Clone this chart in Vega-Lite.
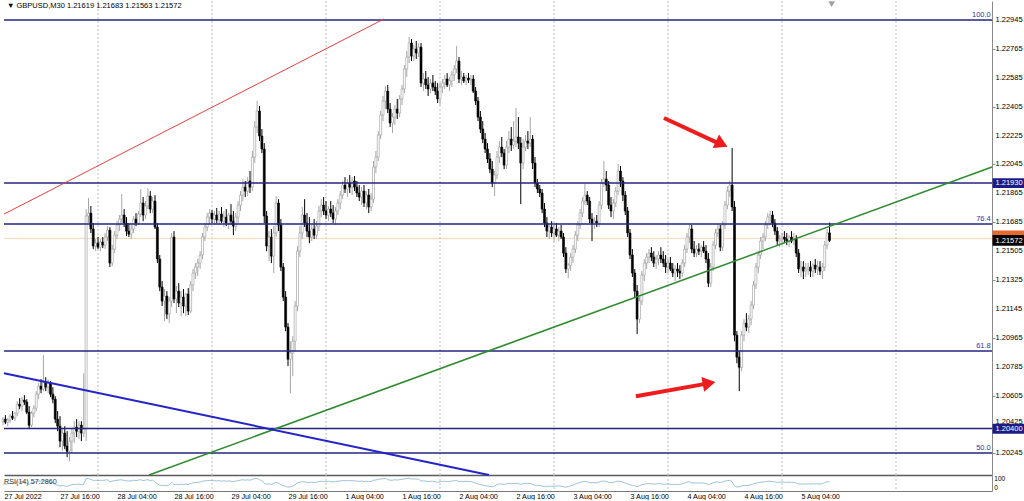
{
"$schema": "https://vega.github.io/schema/vega-lite/v6.json",
"background": "#ffffff",
"padding": 0,
"spacing": 0,
"bounds": "flush",
"config": {"view": {"stroke": null}, "font": "Liberation Sans", "axis": {"labelFont": "Liberation Sans", "titleFont": "Liberation Sans", "labelOverlap": false}, "scale": {"continuousPadding": 0}},
"datasets": {"candles": [
{"i":0,"o":1.20446,"h":1.20471,"l":1.20421,"c":1.20459,"r":45},
{"i":1,"o":1.20459,"h":1.20484,"l":1.20428,"c":1.20440,"r":43},
{"i":2,"o":1.20440,"h":1.20465,"l":1.20415,"c":1.20453,"r":44},
{"i":3,"o":1.20453,"h":1.20490,"l":1.20434,"c":1.20478,"r":48},
{"i":4,"o":1.20478,"h":1.20509,"l":1.20453,"c":1.20465,"r":46},
{"i":5,"o":1.20465,"h":1.20502,"l":1.20446,"c":1.20496,"r":50},
{"i":6,"o":1.20496,"h":1.20571,"l":1.20478,"c":1.20552,"r":57},
{"i":7,"o":1.20552,"h":1.20590,"l":1.20521,"c":1.20540,"r":55},
{"i":8,"o":1.20540,"h":1.20596,"l":1.20509,"c":1.20577,"r":59},
{"i":9,"o":1.20577,"h":1.20608,"l":1.20546,"c":1.20565,"r":57},
{"i":10,"o":1.20565,"h":1.20583,"l":1.20490,"c":1.20502,"r":49},
{"i":11,"o":1.20502,"h":1.20540,"l":1.20397,"c":1.20421,"r":41},
{"i":12,"o":1.20421,"h":1.20509,"l":1.20409,"c":1.20496,"r":50},
{"i":13,"o":1.20496,"h":1.20546,"l":1.20471,"c":1.20527,"r":53},
{"i":14,"o":1.20527,"h":1.20633,"l":1.20509,"c":1.20614,"r":60},
{"i":15,"o":1.20614,"h":1.20683,"l":1.20583,"c":1.20664,"r":64},
{"i":16,"o":1.20664,"h":1.20708,"l":1.20621,"c":1.20646,"r":61},
{"i":17,"o":1.20646,"h":1.20857,"l":1.20633,"c":1.20689,"r":64},
{"i":18,"o":1.20689,"h":1.20720,"l":1.20633,"c":1.20658,"r":60},
{"i":19,"o":1.20658,"h":1.20708,"l":1.20621,"c":1.20683,"r":62},
{"i":20,"o":1.20683,"h":1.20695,"l":1.20596,"c":1.20614,"r":54},
{"i":21,"o":1.20614,"h":1.20658,"l":1.20558,"c":1.20583,"r":51},
{"i":22,"o":1.20583,"h":1.20602,"l":1.20434,"c":1.20459,"r":40},
{"i":23,"o":1.20459,"h":1.20509,"l":1.20384,"c":1.20415,"r":36},
{"i":24,"o":1.20415,"h":1.20478,"l":1.20284,"c":1.20322,"r":30},
{"i":25,"o":1.20322,"h":1.20397,"l":1.20259,"c":1.20372,"r":36},
{"i":26,"o":1.20372,"h":1.20415,"l":1.20272,"c":1.20291,"r":31},
{"i":27,"o":1.20291,"h":1.20384,"l":1.20222,"c":1.20259,"r":29},
{"i":28,"o":1.20259,"h":1.20347,"l":1.20197,"c":1.20322,"r":35},
{"i":29,"o":1.20322,"h":1.20397,"l":1.20247,"c":1.20372,"r":39},
{"i":30,"o":1.20372,"h":1.20446,"l":1.20309,"c":1.20409,"r":42},
{"i":31,"o":1.20409,"h":1.20459,"l":1.20347,"c":1.20384,"r":40},
{"i":32,"o":1.20384,"h":1.20446,"l":1.20334,"c":1.20421,"r":43},
{"i":33,"o":1.20421,"h":1.20446,"l":1.20322,"c":1.20372,"r":39},
{"i":34,"o":1.20372,"h":1.20745,"l":1.20347,"c":1.20397,"r":42},
{"i":35,"o":1.20397,"h":1.21767,"l":1.20322,"c":1.21724,"r":78},
{"i":36,"o":1.21724,"h":1.21836,"l":1.21680,"c":1.21742,"r":78},
{"i":37,"o":1.21742,"h":1.21786,"l":1.21618,"c":1.21643,"r":72},
{"i":38,"o":1.21643,"h":1.21680,"l":1.21518,"c":1.21537,"r":66},
{"i":39,"o":1.21537,"h":1.21580,"l":1.21505,"c":1.21555,"r":67},
{"i":40,"o":1.21555,"h":1.21593,"l":1.21518,"c":1.21530,"r":65},
{"i":41,"o":1.21530,"h":1.21580,"l":1.21505,"c":1.21562,"r":67},
{"i":42,"o":1.21562,"h":1.21593,"l":1.21524,"c":1.21543,"r":66},
{"i":43,"o":1.21543,"h":1.21618,"l":1.21518,"c":1.21593,"r":68},
{"i":44,"o":1.21593,"h":1.21661,"l":1.21568,"c":1.21636,"r":70},
{"i":45,"o":1.21636,"h":1.21655,"l":1.21406,"c":1.21431,"r":58},
{"i":46,"o":1.21431,"h":1.21543,"l":1.21412,"c":1.21518,"r":62},
{"i":47,"o":1.21518,"h":1.21630,"l":1.21493,"c":1.21605,"r":65},
{"i":48,"o":1.21605,"h":1.21692,"l":1.21580,"c":1.21668,"r":67},
{"i":49,"o":1.21668,"h":1.21730,"l":1.21630,"c":1.21705,"r":69},
{"i":50,"o":1.21705,"h":1.21861,"l":1.21680,"c":1.21730,"r":70},
{"i":51,"o":1.21730,"h":1.21767,"l":1.21655,"c":1.21680,"r":66},
{"i":52,"o":1.21680,"h":1.21717,"l":1.21599,"c":1.21630,"r":63},
{"i":53,"o":1.21630,"h":1.21680,"l":1.21593,"c":1.21611,"r":62},
{"i":54,"o":1.21611,"h":1.21668,"l":1.21580,"c":1.21643,"r":64},
{"i":55,"o":1.21643,"h":1.21724,"l":1.21618,"c":1.21705,"r":67},
{"i":56,"o":1.21705,"h":1.21742,"l":1.21661,"c":1.21680,"r":65},
{"i":57,"o":1.21680,"h":1.21755,"l":1.21668,"c":1.21736,"r":68},
{"i":58,"o":1.21736,"h":1.21892,"l":1.21717,"c":1.21805,"r":71},
{"i":59,"o":1.21805,"h":1.21842,"l":1.21692,"c":1.21730,"r":65},
{"i":60,"o":1.21730,"h":1.21817,"l":1.21705,"c":1.21786,"r":68},
{"i":61,"o":1.21786,"h":1.21898,"l":1.21767,"c":1.21848,"r":71},
{"i":62,"o":1.21848,"h":1.21879,"l":1.21742,"c":1.21767,"r":65},
{"i":63,"o":1.21767,"h":1.21842,"l":1.21742,"c":1.21817,"r":68},
{"i":64,"o":1.21817,"h":1.21854,"l":1.21643,"c":1.21655,"r":57},
{"i":65,"o":1.21655,"h":1.21680,"l":1.21431,"c":1.21456,"r":45},
{"i":66,"o":1.21456,"h":1.21481,"l":1.21256,"c":1.21281,"r":37},
{"i":67,"o":1.21281,"h":1.21319,"l":1.21163,"c":1.21194,"r":34},
{"i":68,"o":1.21194,"h":1.21269,"l":1.21069,"c":1.21225,"r":36},
{"i":69,"o":1.21225,"h":1.21256,"l":1.21082,"c":1.21113,"r":33},
{"i":70,"o":1.21113,"h":1.21219,"l":1.21057,"c":1.21194,"r":38},
{"i":71,"o":1.21194,"h":1.21618,"l":1.21157,"c":1.21593,"r":55},
{"i":72,"o":1.21593,"h":1.21630,"l":1.21182,"c":1.21207,"r":40},
{"i":73,"o":1.21207,"h":1.21288,"l":1.21119,"c":1.21256,"r":43},
{"i":74,"o":1.21256,"h":1.21306,"l":1.21157,"c":1.21182,"r":40},
{"i":75,"o":1.21182,"h":1.21256,"l":1.21100,"c":1.21219,"r":42},
{"i":76,"o":1.21219,"h":1.21269,"l":1.21119,"c":1.21163,"r":40},
{"i":77,"o":1.21163,"h":1.21244,"l":1.21100,"c":1.21238,"r":44},
{"i":78,"o":1.21238,"h":1.21275,"l":1.21107,"c":1.21132,"r":39},
{"i":79,"o":1.21132,"h":1.21319,"l":1.21119,"c":1.21294,"r":47},
{"i":80,"o":1.21294,"h":1.21394,"l":1.21256,"c":1.21369,"r":51},
{"i":81,"o":1.21369,"h":1.21431,"l":1.21331,"c":1.21406,"r":53},
{"i":82,"o":1.21406,"h":1.21456,"l":1.21350,"c":1.21431,"r":54},
{"i":83,"o":1.21431,"h":1.21505,"l":1.21394,"c":1.21481,"r":56},
{"i":84,"o":1.21481,"h":1.21618,"l":1.21456,"c":1.21593,"r":61},
{"i":85,"o":1.21593,"h":1.21680,"l":1.21568,"c":1.21655,"r":63},
{"i":86,"o":1.21655,"h":1.21742,"l":1.21630,"c":1.21717,"r":65},
{"i":87,"o":1.21717,"h":1.21767,"l":1.21668,"c":1.21742,"r":66},
{"i":88,"o":1.21742,"h":1.21761,"l":1.21680,"c":1.21705,"r":64},
{"i":89,"o":1.21705,"h":1.21755,"l":1.21668,"c":1.21730,"r":65},
{"i":90,"o":1.21730,"h":1.21774,"l":1.21680,"c":1.21699,"r":63},
{"i":91,"o":1.21699,"h":1.21755,"l":1.21668,"c":1.21736,"r":65},
{"i":92,"o":1.21736,"h":1.21780,"l":1.21680,"c":1.21692,"r":62},
{"i":93,"o":1.21692,"h":1.21755,"l":1.21655,"c":1.21717,"r":63},
{"i":94,"o":1.21717,"h":1.21767,"l":1.21661,"c":1.21680,"r":61},
{"i":95,"o":1.21680,"h":1.21742,"l":1.21643,"c":1.21730,"r":63},
{"i":96,"o":1.21730,"h":1.21798,"l":1.21668,"c":1.21692,"r":61},
{"i":97,"o":1.21692,"h":1.21755,"l":1.21605,"c":1.21661,"r":59},
{"i":98,"o":1.21661,"h":1.21742,"l":1.21630,"c":1.21717,"r":62},
{"i":99,"o":1.21717,"h":1.21817,"l":1.21680,"c":1.21792,"r":65},
{"i":100,"o":1.21792,"h":1.21879,"l":1.21755,"c":1.21854,"r":68},
{"i":101,"o":1.21854,"h":1.21954,"l":1.21817,"c":1.21904,"r":70},
{"i":102,"o":1.21904,"h":1.21942,"l":1.21842,"c":1.21879,"r":68},
{"i":103,"o":1.21879,"h":1.21966,"l":1.21848,"c":1.21942,"r":70},
{"i":104,"o":1.21942,"h":1.22004,"l":1.21867,"c":1.21904,"r":67},
{"i":105,"o":1.21904,"h":1.22129,"l":1.21879,"c":1.22091,"r":73},
{"i":106,"o":1.22091,"h":1.22315,"l":1.22054,"c":1.22278,"r":77},
{"i":107,"o":1.22278,"h":1.22440,"l":1.22241,"c":1.22378,"r":79},
{"i":108,"o":1.22378,"h":1.22409,"l":1.22191,"c":1.22222,"r":70},
{"i":109,"o":1.22222,"h":1.22266,"l":1.22116,"c":1.22141,"r":66},
{"i":110,"o":1.22141,"h":1.22178,"l":1.21680,"c":1.21724,"r":48},
{"i":111,"o":1.21724,"h":1.21755,"l":1.21505,"c":1.21537,"r":42},
{"i":112,"o":1.21537,"h":1.21630,"l":1.21443,"c":1.21593,"r":45},
{"i":113,"o":1.21593,"h":1.21643,"l":1.21431,"c":1.21474,"r":41},
{"i":114,"o":1.21474,"h":1.21661,"l":1.21369,"c":1.21618,"r":47},
{"i":115,"o":1.21618,"h":1.21848,"l":1.21593,"c":1.21805,"r":54},
{"i":116,"o":1.21805,"h":1.21829,"l":1.21630,"c":1.21668,"r":49},
{"i":117,"o":1.21668,"h":1.21705,"l":1.21381,"c":1.21406,"r":40},
{"i":118,"o":1.21406,"h":1.21431,"l":1.21194,"c":1.21219,"r":34},
{"i":119,"o":1.21219,"h":1.21256,"l":1.21007,"c":1.21032,"r":29},
{"i":120,"o":1.21032,"h":1.21057,"l":1.20789,"c":1.20832,"r":24},
{"i":121,"o":1.20832,"h":1.20944,"l":1.20621,"c":1.20870,"r":27},
{"i":122,"o":1.20870,"h":1.20976,"l":1.20726,"c":1.20944,"r":30},
{"i":123,"o":1.20944,"h":1.21194,"l":1.20882,"c":1.21163,"r":40},
{"i":124,"o":1.21163,"h":1.21537,"l":1.21132,"c":1.21505,"r":51},
{"i":125,"o":1.21505,"h":1.21661,"l":1.21468,"c":1.21618,"r":55},
{"i":126,"o":1.21618,"h":1.21780,"l":1.21580,"c":1.21730,"r":58},
{"i":127,"o":1.21730,"h":1.21829,"l":1.21655,"c":1.21680,"r":56},
{"i":128,"o":1.21680,"h":1.21742,"l":1.21593,"c":1.21630,"r":54},
{"i":129,"o":1.21630,"h":1.21717,"l":1.21555,"c":1.21593,"r":53},
{"i":130,"o":1.21593,"h":1.21668,"l":1.21568,"c":1.21643,"r":55},
{"i":131,"o":1.21643,"h":1.21705,"l":1.21580,"c":1.21605,"r":53},
{"i":132,"o":1.21605,"h":1.21692,"l":1.21580,"c":1.21661,"r":56},
{"i":133,"o":1.21661,"h":1.21786,"l":1.21630,"c":1.21755,"r":59},
{"i":134,"o":1.21755,"h":1.21829,"l":1.21717,"c":1.21792,"r":61},
{"i":135,"o":1.21792,"h":1.21842,"l":1.21730,"c":1.21755,"r":59},
{"i":136,"o":1.21755,"h":1.21817,"l":1.21705,"c":1.21730,"r":58},
{"i":137,"o":1.21730,"h":1.21786,"l":1.21692,"c":1.21767,"r":60},
{"i":138,"o":1.21767,"h":1.21817,"l":1.21717,"c":1.21742,"r":59},
{"i":139,"o":1.21742,"h":1.21792,"l":1.21680,"c":1.21705,"r":57},
{"i":140,"o":1.21705,"h":1.21780,"l":1.21668,"c":1.21755,"r":59},
{"i":141,"o":1.21755,"h":1.21829,"l":1.21730,"c":1.21805,"r":61},
{"i":142,"o":1.21805,"h":1.21879,"l":1.21767,"c":1.21854,"r":63},
{"i":143,"o":1.21854,"h":1.21942,"l":1.21829,"c":1.21917,"r":65},
{"i":144,"o":1.21917,"h":1.21966,"l":1.21867,"c":1.21892,"r":64},
{"i":145,"o":1.21892,"h":1.21954,"l":1.21842,"c":1.21929,"r":65},
{"i":146,"o":1.21929,"h":1.21979,"l":1.21867,"c":1.21904,"r":64},
{"i":147,"o":1.21904,"h":1.21966,"l":1.21854,"c":1.21942,"r":65},
{"i":148,"o":1.21942,"h":1.21973,"l":1.21879,"c":1.21904,"r":63},
{"i":149,"o":1.21904,"h":1.21942,"l":1.21842,"c":1.21867,"r":62},
{"i":150,"o":1.21867,"h":1.21917,"l":1.21817,"c":1.21842,"r":60},
{"i":151,"o":1.21842,"h":1.21904,"l":1.21792,"c":1.21879,"r":62},
{"i":152,"o":1.21879,"h":1.21917,"l":1.21780,"c":1.21805,"r":59},
{"i":153,"o":1.21805,"h":1.21879,"l":1.21767,"c":1.21854,"r":61},
{"i":154,"o":1.21854,"h":1.21892,"l":1.21742,"c":1.21780,"r":58},
{"i":155,"o":1.21780,"h":1.21867,"l":1.21755,"c":1.21829,"r":60},
{"i":156,"o":1.21829,"h":1.22066,"l":1.21805,"c":1.22029,"r":67},
{"i":157,"o":1.22029,"h":1.22129,"l":1.21991,"c":1.22091,"r":69},
{"i":158,"o":1.22091,"h":1.22253,"l":1.22066,"c":1.22228,"r":72},
{"i":159,"o":1.22228,"h":1.22378,"l":1.22203,"c":1.22353,"r":75},
{"i":160,"o":1.22353,"h":1.22471,"l":1.22315,"c":1.22440,"r":77},
{"i":161,"o":1.22440,"h":1.22533,"l":1.22390,"c":1.22502,"r":78},
{"i":162,"o":1.22502,"h":1.22540,"l":1.22365,"c":1.22390,"r":72},
{"i":163,"o":1.22390,"h":1.22428,"l":1.22278,"c":1.22303,"r":67},
{"i":164,"o":1.22303,"h":1.22365,"l":1.22241,"c":1.22340,"r":68},
{"i":165,"o":1.22340,"h":1.22415,"l":1.22290,"c":1.22390,"r":70},
{"i":166,"o":1.22390,"h":1.22453,"l":1.22328,"c":1.22365,"r":69},
{"i":167,"o":1.22365,"h":1.22477,"l":1.22340,"c":1.22453,"r":71},
{"i":168,"o":1.22453,"h":1.22540,"l":1.22415,"c":1.22515,"r":73},
{"i":169,"o":1.22515,"h":1.22664,"l":1.22490,"c":1.22639,"r":76},
{"i":170,"o":1.22639,"h":1.22752,"l":1.22590,"c":1.22714,"r":78},
{"i":171,"o":1.22714,"h":1.22839,"l":1.22677,"c":1.22801,"r":80},
{"i":172,"o":1.22801,"h":1.22826,"l":1.22689,"c":1.22720,"r":75},
{"i":173,"o":1.22720,"h":1.22789,"l":1.22689,"c":1.22764,"r":76},
{"i":174,"o":1.22764,"h":1.22814,"l":1.22702,"c":1.22739,"r":74},
{"i":175,"o":1.22739,"h":1.22801,"l":1.22714,"c":1.22776,"r":75},
{"i":176,"o":1.22776,"h":1.22801,"l":1.22527,"c":1.22552,"r":62},
{"i":177,"o":1.22552,"h":1.22614,"l":1.22502,"c":1.22577,"r":63},
{"i":178,"o":1.22577,"h":1.22627,"l":1.22515,"c":1.22540,"r":61},
{"i":179,"o":1.22540,"h":1.22590,"l":1.22471,"c":1.22515,"r":59},
{"i":180,"o":1.22515,"h":1.22577,"l":1.22490,"c":1.22552,"r":61},
{"i":181,"o":1.22552,"h":1.22602,"l":1.22502,"c":1.22527,"r":60},
{"i":182,"o":1.22527,"h":1.22565,"l":1.22477,"c":1.22502,"r":58},
{"i":183,"o":1.22502,"h":1.22552,"l":1.22428,"c":1.22453,"r":55},
{"i":184,"o":1.22453,"h":1.22552,"l":1.22415,"c":1.22527,"r":58},
{"i":185,"o":1.22527,"h":1.22577,"l":1.22490,"c":1.22552,"r":60},
{"i":186,"o":1.22552,"h":1.22602,"l":1.22515,"c":1.22577,"r":61},
{"i":187,"o":1.22577,"h":1.22614,"l":1.22527,"c":1.22540,"r":59},
{"i":188,"o":1.22540,"h":1.22590,"l":1.22502,"c":1.22565,"r":60},
{"i":189,"o":1.22565,"h":1.22627,"l":1.22527,"c":1.22602,"r":62},
{"i":190,"o":1.22602,"h":1.22664,"l":1.22565,"c":1.22639,"r":64},
{"i":191,"o":1.22639,"h":1.22783,"l":1.22614,"c":1.22689,"r":66},
{"i":192,"o":1.22689,"h":1.22714,"l":1.22552,"c":1.22577,"r":59},
{"i":193,"o":1.22577,"h":1.22627,"l":1.22540,"c":1.22590,"r":60},
{"i":194,"o":1.22590,"h":1.22614,"l":1.22552,"c":1.22565,"r":59},
{"i":195,"o":1.22565,"h":1.22602,"l":1.22540,"c":1.22583,"r":60},
{"i":196,"o":1.22583,"h":1.22614,"l":1.22552,"c":1.22571,"r":59},
{"i":197,"o":1.22571,"h":1.22602,"l":1.22540,"c":1.22577,"r":59},
{"i":198,"o":1.22577,"h":1.22602,"l":1.22490,"c":1.22502,"r":54},
{"i":199,"o":1.22502,"h":1.22527,"l":1.22415,"c":1.22440,"r":50},
{"i":200,"o":1.22440,"h":1.22465,"l":1.22315,"c":1.22340,"r":44},
{"i":201,"o":1.22340,"h":1.22378,"l":1.22241,"c":1.22266,"r":40},
{"i":202,"o":1.22266,"h":1.22315,"l":1.22178,"c":1.22203,"r":37},
{"i":203,"o":1.22203,"h":1.22241,"l":1.22116,"c":1.22141,"r":34},
{"i":204,"o":1.22141,"h":1.22178,"l":1.22054,"c":1.22079,"r":31},
{"i":205,"o":1.22079,"h":1.22116,"l":1.21991,"c":1.22016,"r":29},
{"i":206,"o":1.22016,"h":1.22066,"l":1.21904,"c":1.21929,"r":26},
{"i":207,"o":1.21929,"h":1.22004,"l":1.21848,"c":1.21979,"r":31},
{"i":208,"o":1.21979,"h":1.22129,"l":1.21954,"c":1.22091,"r":40},
{"i":209,"o":1.22091,"h":1.22191,"l":1.22054,"c":1.22153,"r":45},
{"i":210,"o":1.22153,"h":1.22216,"l":1.22091,"c":1.22116,"r":43},
{"i":211,"o":1.22116,"h":1.22141,"l":1.22016,"c":1.22041,"r":39},
{"i":212,"o":1.22041,"h":1.22191,"l":1.22016,"c":1.22153,"r":45},
{"i":213,"o":1.22153,"h":1.22253,"l":1.22116,"c":1.22203,"r":48},
{"i":214,"o":1.22203,"h":1.22278,"l":1.22129,"c":1.22166,"r":46},
{"i":215,"o":1.22166,"h":1.22315,"l":1.22141,"c":1.22191,"r":47},
{"i":216,"o":1.22191,"h":1.22397,"l":1.22153,"c":1.22216,"r":48},
{"i":217,"o":1.22216,"h":1.22340,"l":1.22141,"c":1.22178,"r":46},
{"i":218,"o":1.22178,"h":1.22216,"l":1.21798,"c":1.22054,"r":41},
{"i":219,"o":1.22054,"h":1.22203,"l":1.22016,"c":1.22153,"r":46},
{"i":220,"o":1.22153,"h":1.22228,"l":1.22129,"c":1.22191,"r":48},
{"i":221,"o":1.22191,"h":1.22253,"l":1.22141,"c":1.22178,"r":47},
{"i":222,"o":1.22178,"h":1.22340,"l":1.22153,"c":1.22203,"r":48},
{"i":223,"o":1.22203,"h":1.22228,"l":1.22016,"c":1.22054,"r":41},
{"i":224,"o":1.22054,"h":1.22091,"l":1.21904,"c":1.21929,"r":36},
{"i":225,"o":1.21929,"h":1.21954,"l":1.21867,"c":1.21892,"r":35},
{"i":226,"o":1.21892,"h":1.21917,"l":1.21842,"c":1.21867,"r":34},
{"i":227,"o":1.21867,"h":1.21892,"l":1.21742,"c":1.21767,"r":31},
{"i":228,"o":1.21767,"h":1.21805,"l":1.21655,"c":1.21680,"r":28},
{"i":229,"o":1.21680,"h":1.21717,"l":1.21593,"c":1.21630,"r":27},
{"i":230,"o":1.21630,"h":1.21680,"l":1.21580,"c":1.21655,"r":30},
{"i":231,"o":1.21655,"h":1.21692,"l":1.21593,"c":1.21618,"r":29},
{"i":232,"o":1.21618,"h":1.21668,"l":1.21568,"c":1.21643,"r":31},
{"i":233,"o":1.21643,"h":1.21680,"l":1.21593,"c":1.21605,"r":30},
{"i":234,"o":1.21605,"h":1.21655,"l":1.21568,"c":1.21630,"r":32},
{"i":235,"o":1.21630,"h":1.21668,"l":1.21580,"c":1.21593,"r":31},
{"i":236,"o":1.21593,"h":1.21618,"l":1.21468,"c":1.21493,"r":27},
{"i":237,"o":1.21493,"h":1.21530,"l":1.21369,"c":1.21394,"r":24},
{"i":238,"o":1.21394,"h":1.21431,"l":1.21338,"c":1.21418,"r":27},
{"i":239,"o":1.21418,"h":1.21493,"l":1.21381,"c":1.21468,"r":32},
{"i":240,"o":1.21468,"h":1.21543,"l":1.21431,"c":1.21518,"r":37},
{"i":241,"o":1.21518,"h":1.21630,"l":1.21493,"c":1.21605,"r":44},
{"i":242,"o":1.21605,"h":1.21692,"l":1.21568,"c":1.21668,"r":49},
{"i":243,"o":1.21668,"h":1.21767,"l":1.21643,"c":1.21742,"r":54},
{"i":244,"o":1.21742,"h":1.21842,"l":1.21717,"c":1.21817,"r":58},
{"i":245,"o":1.21817,"h":1.21923,"l":1.21792,"c":1.21854,"r":60},
{"i":246,"o":1.21854,"h":1.21879,"l":1.21792,"c":1.21817,"r":58},
{"i":247,"o":1.21817,"h":1.21842,"l":1.21680,"c":1.21705,"r":52},
{"i":248,"o":1.21705,"h":1.21742,"l":1.21568,"c":1.21680,"r":51},
{"i":249,"o":1.21680,"h":1.21717,"l":1.21643,"c":1.21692,"r":52},
{"i":250,"o":1.21692,"h":1.21730,"l":1.21655,"c":1.21680,"r":51},
{"i":251,"o":1.21680,"h":1.21817,"l":1.21655,"c":1.21792,"r":56},
{"i":252,"o":1.21792,"h":1.21954,"l":1.21767,"c":1.21929,"r":61},
{"i":253,"o":1.21929,"h":1.22066,"l":1.21904,"c":1.21954,"r":62},
{"i":254,"o":1.21954,"h":1.22004,"l":1.21879,"c":1.21917,"r":60},
{"i":255,"o":1.21917,"h":1.21942,"l":1.21767,"c":1.21792,"r":54},
{"i":256,"o":1.21792,"h":1.21842,"l":1.21717,"c":1.21755,"r":52},
{"i":257,"o":1.21755,"h":1.21829,"l":1.21705,"c":1.21805,"r":55},
{"i":258,"o":1.21805,"h":1.21904,"l":1.21780,"c":1.21879,"r":58},
{"i":259,"o":1.21879,"h":1.22048,"l":1.21854,"c":1.22004,"r":62},
{"i":260,"o":1.22004,"h":1.22035,"l":1.21904,"c":1.21942,"r":59},
{"i":261,"o":1.21942,"h":1.21966,"l":1.21817,"c":1.21854,"r":55},
{"i":262,"o":1.21854,"h":1.21879,"l":1.21730,"c":1.21755,"r":50},
{"i":263,"o":1.21755,"h":1.21780,"l":1.21593,"c":1.21618,"r":44},
{"i":264,"o":1.21618,"h":1.21643,"l":1.21456,"c":1.21481,"r":39},
{"i":265,"o":1.21481,"h":1.21518,"l":1.21344,"c":1.21369,"r":35},
{"i":266,"o":1.21369,"h":1.21394,"l":1.21219,"c":1.21256,"r":32},
{"i":267,"o":1.21256,"h":1.21294,"l":1.20988,"c":1.21082,"r":27},
{"i":268,"o":1.21082,"h":1.21219,"l":1.21057,"c":1.21194,"r":33},
{"i":269,"o":1.21194,"h":1.21381,"l":1.21169,"c":1.21356,"r":40},
{"i":270,"o":1.21356,"h":1.21456,"l":1.21319,"c":1.21431,"r":43},
{"i":271,"o":1.21431,"h":1.21493,"l":1.21394,"c":1.21468,"r":45},
{"i":272,"o":1.21468,"h":1.21518,"l":1.21431,"c":1.21493,"r":46},
{"i":273,"o":1.21493,"h":1.21530,"l":1.21443,"c":1.21468,"r":45},
{"i":274,"o":1.21468,"h":1.21505,"l":1.21406,"c":1.21431,"r":43},
{"i":275,"o":1.21431,"h":1.21481,"l":1.21394,"c":1.21456,"r":44},
{"i":276,"o":1.21456,"h":1.21505,"l":1.21418,"c":1.21481,"r":46},
{"i":277,"o":1.21481,"h":1.21530,"l":1.21431,"c":1.21456,"r":45},
{"i":278,"o":1.21456,"h":1.21505,"l":1.21406,"c":1.21431,"r":43},
{"i":279,"o":1.21431,"h":1.21481,"l":1.21369,"c":1.21406,"r":42},
{"i":280,"o":1.21406,"h":1.21456,"l":1.21369,"c":1.21431,"r":44},
{"i":281,"o":1.21431,"h":1.21468,"l":1.21381,"c":1.21394,"r":42},
{"i":282,"o":1.21394,"h":1.21431,"l":1.21344,"c":1.21369,"r":40},
{"i":283,"o":1.21369,"h":1.21418,"l":1.21319,"c":1.21394,"r":42},
{"i":284,"o":1.21394,"h":1.21431,"l":1.21344,"c":1.21381,"r":41},
{"i":285,"o":1.21381,"h":1.21418,"l":1.21331,"c":1.21369,"r":40},
{"i":286,"o":1.21369,"h":1.21456,"l":1.21344,"c":1.21431,"r":45},
{"i":287,"o":1.21431,"h":1.21543,"l":1.21406,"c":1.21518,"r":50},
{"i":288,"o":1.21518,"h":1.21618,"l":1.21493,"c":1.21593,"r":55},
{"i":289,"o":1.21593,"h":1.21674,"l":1.21555,"c":1.21643,"r":58},
{"i":290,"o":1.21643,"h":1.21668,"l":1.21493,"c":1.21518,"r":51},
{"i":291,"o":1.21518,"h":1.21568,"l":1.21468,"c":1.21493,"r":49},
{"i":292,"o":1.21493,"h":1.21543,"l":1.21468,"c":1.21518,"r":51},
{"i":293,"o":1.21518,"h":1.21555,"l":1.21481,"c":1.21505,"r":50},
{"i":294,"o":1.21505,"h":1.21543,"l":1.21468,"c":1.21530,"r":51},
{"i":295,"o":1.21530,"h":1.21568,"l":1.21493,"c":1.21505,"r":50},
{"i":296,"o":1.21505,"h":1.21543,"l":1.21431,"c":1.21456,"r":47},
{"i":297,"o":1.21456,"h":1.21493,"l":1.21281,"c":1.21306,"r":39},
{"i":298,"o":1.21306,"h":1.21431,"l":1.21281,"c":1.21406,"r":45},
{"i":299,"o":1.21406,"h":1.21568,"l":1.21381,"c":1.21543,"r":52},
{"i":300,"o":1.21543,"h":1.21643,"l":1.21518,"c":1.21618,"r":56},
{"i":301,"o":1.21618,"h":1.21680,"l":1.21593,"c":1.21643,"r":57},
{"i":302,"o":1.21643,"h":1.21668,"l":1.21505,"c":1.21530,"r":52},
{"i":303,"o":1.21530,"h":1.21692,"l":1.21505,"c":1.21668,"r":57},
{"i":304,"o":1.21668,"h":1.21817,"l":1.21643,"c":1.21792,"r":62},
{"i":305,"o":1.21792,"h":1.21910,"l":1.21767,"c":1.21879,"r":65},
{"i":306,"o":1.21879,"h":1.21942,"l":1.21842,"c":1.21917,"r":66},
{"i":307,"o":1.21917,"h":1.22147,"l":1.21755,"c":1.21780,"r":58},
{"i":308,"o":1.21780,"h":1.21817,"l":1.20944,"c":1.20982,"r":30},
{"i":309,"o":1.20982,"h":1.21007,"l":1.20807,"c":1.20845,"r":26},
{"i":310,"o":1.20845,"h":1.20882,"l":1.20633,"c":1.20782,"r":25},
{"i":311,"o":1.20782,"h":1.21007,"l":1.20757,"c":1.20982,"r":32},
{"i":312,"o":1.20982,"h":1.21082,"l":1.20944,"c":1.21057,"r":35},
{"i":313,"o":1.21057,"h":1.21119,"l":1.21007,"c":1.21032,"r":34},
{"i":314,"o":1.21032,"h":1.21107,"l":1.20994,"c":1.21082,"r":36},
{"i":315,"o":1.21082,"h":1.21194,"l":1.21044,"c":1.21169,"r":40},
{"i":316,"o":1.21169,"h":1.21319,"l":1.21144,"c":1.21294,"r":45},
{"i":317,"o":1.21294,"h":1.21431,"l":1.21269,"c":1.21406,"r":49},
{"i":318,"o":1.21406,"h":1.21505,"l":1.21369,"c":1.21481,"r":52},
{"i":319,"o":1.21481,"h":1.21593,"l":1.21456,"c":1.21568,"r":55},
{"i":320,"o":1.21568,"h":1.21618,"l":1.21518,"c":1.21593,"r":56},
{"i":321,"o":1.21593,"h":1.21692,"l":1.21568,"c":1.21668,"r":59},
{"i":322,"o":1.21668,"h":1.21742,"l":1.21643,"c":1.21717,"r":61},
{"i":323,"o":1.21717,"h":1.21755,"l":1.21668,"c":1.21730,"r":61},
{"i":324,"o":1.21730,"h":1.21755,"l":1.21655,"c":1.21680,"r":59},
{"i":325,"o":1.21680,"h":1.21705,"l":1.21605,"c":1.21630,"r":57},
{"i":326,"o":1.21630,"h":1.21655,"l":1.21543,"c":1.21568,"r":54},
{"i":327,"o":1.21568,"h":1.21605,"l":1.21530,"c":1.21580,"r":55},
{"i":328,"o":1.21580,"h":1.21618,"l":1.21543,"c":1.21593,"r":56},
{"i":329,"o":1.21593,"h":1.21630,"l":1.21555,"c":1.21580,"r":55},
{"i":330,"o":1.21580,"h":1.21618,"l":1.21543,"c":1.21568,"r":54},
{"i":331,"o":1.21568,"h":1.21605,"l":1.21530,"c":1.21593,"r":56},
{"i":332,"o":1.21593,"h":1.21630,"l":1.21555,"c":1.21568,"r":54},
{"i":333,"o":1.21568,"h":1.21618,"l":1.21543,"c":1.21580,"r":55},
{"i":334,"o":1.21580,"h":1.21605,"l":1.21468,"c":1.21493,"r":49},
{"i":335,"o":1.21493,"h":1.21518,"l":1.21369,"c":1.21394,"r":43},
{"i":336,"o":1.21394,"h":1.21443,"l":1.21344,"c":1.21406,"r":44},
{"i":337,"o":1.21406,"h":1.21443,"l":1.21331,"c":1.21381,"r":43},
{"i":338,"o":1.21381,"h":1.21431,"l":1.21344,"c":1.21394,"r":44},
{"i":339,"o":1.21394,"h":1.21431,"l":1.21356,"c":1.21406,"r":45},
{"i":340,"o":1.21406,"h":1.21443,"l":1.21344,"c":1.21381,"r":43},
{"i":341,"o":1.21381,"h":1.21431,"l":1.21344,"c":1.21418,"r":45},
{"i":342,"o":1.21418,"h":1.21456,"l":1.21369,"c":1.21394,"r":44},
{"i":343,"o":1.21394,"h":1.21443,"l":1.21356,"c":1.21406,"r":45},
{"i":344,"o":1.21406,"h":1.21443,"l":1.21356,"c":1.21381,"r":44},
{"i":345,"o":1.21381,"h":1.21431,"l":1.21331,"c":1.21406,"r":45},
{"i":346,"o":1.21406,"h":1.21568,"l":1.21381,"c":1.21543,"r":53},
{"i":347,"o":1.21543,"h":1.21643,"l":1.21518,"c":1.21618,"r":58},
{"i":348,"o":1.21619,"h":1.21683,"l":1.21563,"c":1.21572,"r":57.286}
]},
"vconcat": [
{
"width": 988,
"height": 474,
"layer": [
{"data": {"values": [{"g":40},{"g":88},{"g":136},{"g":184},{"g":232},{"g":280},{"g":328},{"g":376}]},
 "mark": {"type": "rule", "color": "#bdbdbd", "strokeDash": [2,2], "strokeWidth": 1},
 "encoding": {"x": {"field": "g", "type": "quantitative", "title": null, "scale": {"domain": [0.42, 416.42], "nice": false, "zero": false, "padding": 0}, "axis": {"orient": "bottom", "labels": false, "ticks": false, "grid": false, "domainColor": "#5a5a5a", "domainWidth": 1.5, "title": null}}}},
{"data": {"values": [{"p": 1.21585}]},
 "mark": {"type": "rule", "color": "#f0d6b8", "strokeWidth": 1},
 "encoding": {"y": {"field": "p", "type": "quantitative", "title": null, "scale": {"domain": [1.20111, 1.23063], "nice": false, "zero": false, "padding": 0},
   "axis": {"orient": "right", "values": [1.22945,1.22765,1.22585,1.22405,1.22225,1.22045,1.21865,1.21685,1.21505,1.21325,1.21145,1.20965,1.20785,1.20605,1.20425,1.20245], "labels": false, "title": null, "grid": false, "domainColor": "#8a8a8a", "tickColor": "#8a8a8a", "tickSize": 3}}}},
{"data": {"name": "candles"},
 "mark": {"type": "rule", "strokeWidth": 1},
 "encoding": {"x": {"field": "i", "type": "quantitative", "title": null}, "y": {"field": "l", "type": "quantitative", "title": null}, "y2": {"field": "h"},
   "color": {"condition": {"test": "datum.c >= datum.o", "value": "#a6a6a6"}, "value": "#000000"}}},
{"data": {"name": "candles"},
 "mark": {"type": "bar", "width": 2, "strokeWidth": 0.6},
 "encoding": {"x": {"field": "i", "type": "quantitative", "title": null}, "y": {"field": "o", "type": "quantitative", "title": null}, "y2": {"field": "c"},
   "fill": {"condition": {"test": "datum.c >= datum.o", "value": "#ffffff"}, "value": "#000000"},
   "stroke": {"condition": {"test": "datum.c >= datum.o", "value": "#9a9a9a"}, "value": "#000000"}}},
{"data": {"values": [{"p":1.22945},{"p":1.2193},{"p":1.21674},{"p":1.20883},{"p":1.204},{"p":1.20248}]},
 "mark": {"type": "rule", "color": "#24247f", "strokeWidth": 1.5},
 "encoding": {"y": {"field": "p", "type": "quantitative", "title": null}}},
{"data": {"values": [{"i":0.42,"p":1.21736},{"i":160.4,"p":1.22951}]},
 "mark": {"type": "line", "color": "#e8413c", "strokeWidth": 1},
 "encoding": {"x": {"field": "i", "type": "quantitative", "title": null}, "y": {"field": "p", "type": "quantitative", "title": null}}},
{"data": {"values": [{"i":61.5,"p":1.20111},{"i":416.42,"p":1.22029}]},
 "mark": {"type": "line", "color": "#2e8b2e", "strokeWidth": 1.5},
 "encoding": {"x": {"field": "i", "type": "quantitative", "title": null}, "y": {"field": "p", "type": "quantitative", "title": null}}},
{"data": {"values": [{"i":0.42,"p":1.20745},{"i":204.6,"p":1.20111}]},
 "mark": {"type": "line", "color": "#2424c8", "strokeWidth": 2},
 "encoding": {"x": {"field": "i", "type": "quantitative", "title": null}, "y": {"field": "p", "type": "quantitative", "title": null}}},
{"data": {"values": [{"i":278.3,"p":1.22334,"i2":301.1,"p2":1.22178},{"i":266.5,"p":1.20602,"i2":295.2,"p2":1.20677}]},
 "mark": {"type": "rule", "color": "#ee1c1c", "strokeWidth": 4},
 "encoding": {"x": {"field": "i", "type": "quantitative", "title": null}, "y": {"field": "p", "type": "quantitative", "title": null}, "x2": {"field": "i2"}, "y2": {"field": "p2"}}},
{"data": {"values": [{"i":302.6,"p":1.22172}]},
 "mark": {"type": "point", "shape": "triangle-right", "filled": true, "color": "#ee1c1c", "opacity": 1, "size": 220, "angle": 25.5},
 "encoding": {"x": {"field": "i", "type": "quantitative", "title": null}, "y": {"field": "p", "type": "quantitative", "title": null}}},
{"data": {"values": [{"i":297.3,"p":1.20683}]},
 "mark": {"type": "point", "shape": "triangle-right", "filled": true, "color": "#ee1c1c", "opacity": 1, "size": 220, "angle": 349.4},
 "encoding": {"x": {"field": "i", "type": "quantitative", "title": null}, "y": {"field": "p", "type": "quantitative", "title": null}}},
{"data": {"values": [{"i":348.9,"p":1.23044}]},
 "mark": {"type": "point", "shape": "triangle-down", "filled": true, "color": "#a0a0a0", "opacity": 1, "size": 45},
 "encoding": {"x": {"field": "i", "type": "quantitative", "title": null}, "y": {"field": "p", "type": "quantitative", "title": null}}},
{"data": {"values": [{"p":1.22945,"t":"100.0"},{"p":1.21674,"t":"76.4"},{"p":1.20883,"t":"61.8"},{"p":1.20248,"t":"50.0"}]},
 "mark": {"type": "text", "align": "right", "baseline": "bottom", "dy": -1, "fontSize": 7.5, "color": "#3434a0"},
 "encoding": {"x": {"datum": 415.9, "type": "quantitative"}, "y": {"field": "p", "type": "quantitative", "title": null}, "text": {"field": "t"}}},
{"data": {"values": [{"t":"▼  GBPUSD,M30  1.21619 1.21683 1.21563 1.21572"}]},
 "mark": {"type": "text", "align": "left", "baseline": "top", "dx": 3, "dy": 1, "fontSize": 7.5, "color": "#000000"},
 "encoding": {"x": {"datum": 0.42, "type": "quantitative"}, "y": {"datum": 1.23063, "type": "quantitative"}, "text": {"field": "t"}}},
{"data": {"values": [{"p":1.22945,"t":"1.22945"},{"p":1.22765,"t":"1.22765"},{"p":1.22585,"t":"1.22585"},{"p":1.22405,"t":"1.22405"},{"p":1.22225,"t":"1.22225"},{"p":1.22045,"t":"1.22045"},{"p":1.21865,"t":"1.21865"},{"p":1.21685,"t":"1.21685"},{"p":1.21505,"t":"1.21505"},{"p":1.21325,"t":"1.21325"},{"p":1.21145,"t":"1.21145"},{"p":1.20965,"t":"1.20965"},{"p":1.20785,"t":"1.20785"},{"p":1.20605,"t":"1.20605"},{"p":1.20245,"t":"1.20245"}]},
 "mark": {"type": "text", "align": "left", "baseline": "middle", "fontSize": 7.5, "color": "#000000"},
 "encoding": {"x": {"datum": 417.9, "type": "quantitative"}, "y": {"field": "p", "type": "quantitative", "title": null}, "text": {"field": "t"}}},
{"data": {"values": [{"p":1.20425,"t":"1.20425"}]},
 "mark": {"type": "text", "align": "left", "baseline": "middle", "dy": -3, "fontSize": 7.5, "color": "#000000"},
 "encoding": {"x": {"datum": 417.9, "type": "quantitative"}, "y": {"field": "p", "type": "quantitative", "title": null}, "text": {"field": "t"}}},
{"data": {"values": [{"p":1.216}]},
 "mark": {"type": "point", "shape": "M-1,-0.32H1V0.32H-1Z", "size": 1156, "filled": true, "color": "#e8692a", "opacity": 1},
 "encoding": {"x": {"datum": 423.8, "type": "quantitative"}, "y": {"field": "p", "type": "quantitative", "title": null}}},
{"data": {"values": [{"p":1.2193},{"p":1.2040}]},
 "mark": {"type": "point", "shape": "M-1,-0.28H1V0.3H-1Z", "size": 1156, "filled": true, "color": "#1c1c84", "opacity": 1},
 "encoding": {"x": {"datum": 423.8, "type": "quantitative"}, "y": {"field": "p", "type": "quantitative", "title": null}}},
{"data": {"values": [{"p":1.21572}]},
 "mark": {"type": "point", "shape": "M-1,-0.32H1V0.32H-1Z", "size": 1156, "filled": true, "color": "#000000", "opacity": 1},
 "encoding": {"x": {"datum": 423.8, "type": "quantitative"}, "y": {"field": "p", "type": "quantitative", "title": null}}},
{"data": {"values": [{"p":1.2193,"t":"1.21930"},{"p":1.204,"t":"1.20400"},{"p":1.21572,"t":"1.21572"}]},
 "mark": {"type": "text", "align": "left", "baseline": "middle", "fontSize": 7.5, "dy": 0.5, "color": "#ffffff"},
 "encoding": {"x": {"datum": 417.9, "type": "quantitative"}, "y": {"field": "p", "type": "quantitative", "title": null}, "text": {"field": "t"}}}
]
},
{
"width": 988,
"height": 16,
"layer": [
{"data": {"values": [{"g":40},{"g":88},{"g":136},{"g":184},{"g":232},{"g":280},{"g":328},{"g":376}]},
 "mark": {"type": "rule", "color": "#bdbdbd", "strokeDash": [2,2], "strokeWidth": 1},
 "encoding": {"x": {"field": "g", "type": "quantitative", "title": null, "scale": {"domain": [0.42, 416.42], "nice": false, "zero": false, "padding": 0},
   "axis": {"orient": "bottom", "values": [0.42,24,48,72,96,120,144,168,192,216,240,264,288,312,336], "labelExpr": "['27 Jul 2022','27 Jul 16:00','28 Jul 04:00','28 Jul 16:00','29 Jul 04:00','29 Jul 16:00','1 Aug 04:00','1 Aug 16:00','2 Aug 04:00','2 Aug 16:00','3 Aug 04:00','3 Aug 16:00','4 Aug 04:00','4 Aug 16:00','5 Aug 04:00'][round(datum.value/24)]", "labelAlign": "left", "labelBaseline": "top", "labelPadding": 1, "ticks": false, "domainColor": "#777777", "labelFontSize": 7.2, "labelColor": "#000000", "labelOverlap": false, "labelFlush": false, "labelBound": false, "grid": false, "title": null}}}},
{"data": {"name": "candles"},
 "mark": {"type": "line", "color": "#9cc3da", "strokeWidth": 1},
 "encoding": {"x": {"field": "i", "type": "quantitative", "title": null}, "y": {"field": "r", "type": "quantitative", "title": null, "scale": {"domain": [0, 100], "nice": false, "zero": false}, "axis": {"orient": "right", "labels": false, "ticks": false, "grid": false, "domainColor": "#8a8a8a", "title": null}}}},
{"data": {"values": [{"t":"RSI(14) 57.2860"}]},
 "mark": {"type": "text", "align": "left", "baseline": "middle", "fontSize": 7.2, "color": "#333333"},
 "encoding": {"x": {"datum": 0.42, "type": "quantitative"}, "y": {"datum": 58, "type": "quantitative"}, "text": {"field": "t"}}},
{"data": {"values": [{"v":72,"t":"100"},{"v":18,"t":"0"}]},
 "mark": {"type": "text", "align": "left", "baseline": "middle", "fontSize": 6.5, "color": "#000000"},
 "encoding": {"x": {"datum": 417.4, "type": "quantitative"}, "y": {"field": "v", "type": "quantitative", "title": null}, "text": {"field": "t"}}}
]
}
]
}
